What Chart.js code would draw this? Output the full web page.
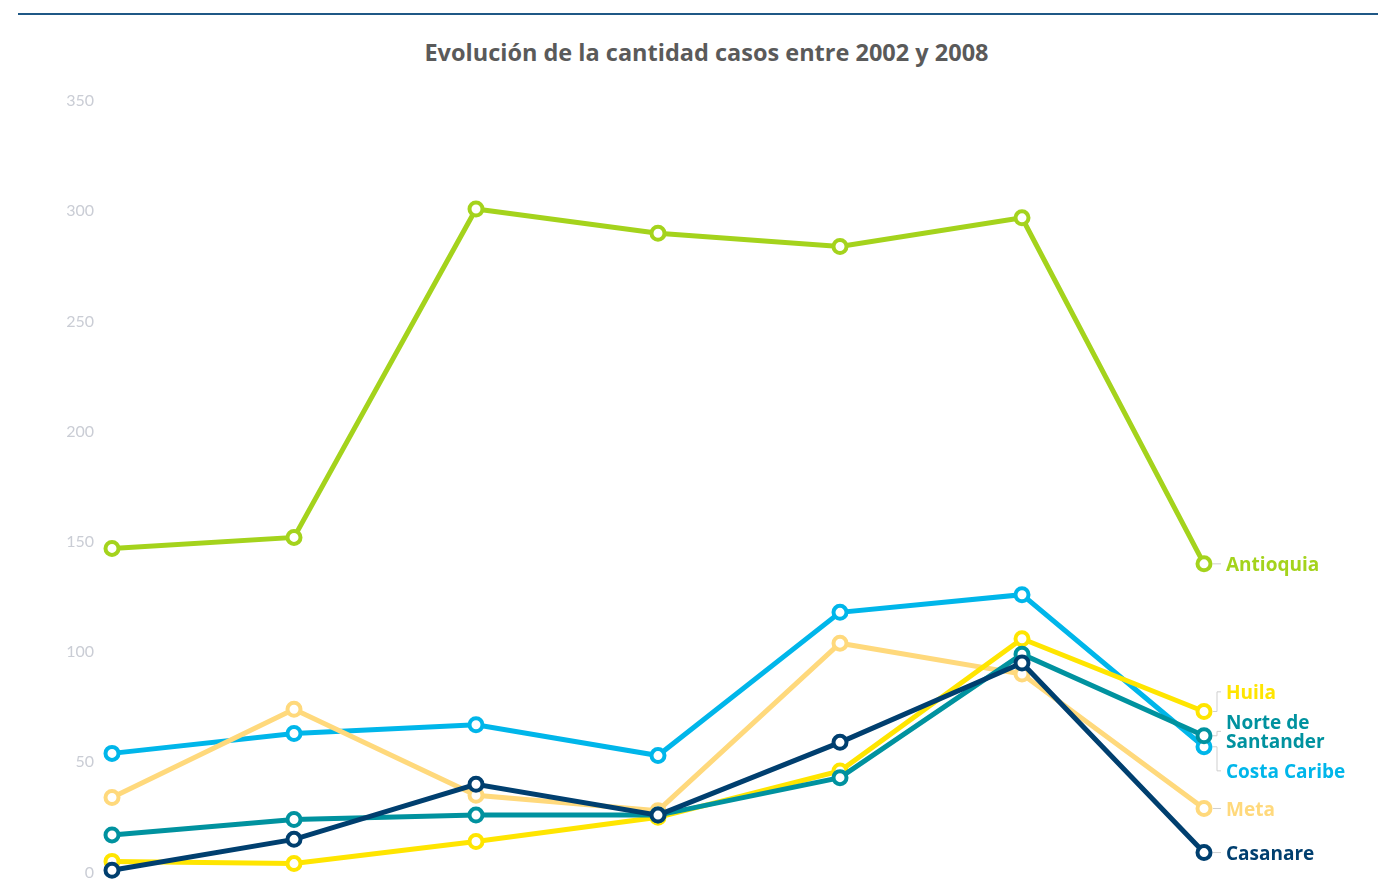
<!DOCTYPE html>
<html lang="es">
<head>
    <meta charset="UTF-8">
    <title>Evolución de la cantidad casos entre 2002 y 2008</title>
    <style>
        body {
            margin: 0;
            background: #ffffff;
            font-family: "Open Sans", Arial, sans-serif;
        }
        .wrap {
            position: relative;
            width: 1393px;
            height: 892px;
            overflow: hidden;
        }
        .top-rule {
            position: absolute;
            left: 18px;
            top: 13px;
            width: 1360px;
            height: 2px;
            background: #1f5886;
        }
        h1 {
            position: absolute;
            top: 36px;
            left: 10px;
            width: 100%;
            margin: 0;
            text-align: center;
            font-size: 23.5px;
            font-weight: 700;
            color: #5a5a5a;
            line-height: 32px;
        }
        canvas {
            position: absolute;
            left: 0;
            top: 0;
        }
    </style>
</head>
<body>
    <div class="wrap">
        <div class="top-rule"></div>
        <h1>Evolución de la cantidad casos entre 2002 y 2008</h1>
        <canvas id="casosChart" width="1393" height="892"></canvas>
    </div>

    <script src="https://cdn.jsdelivr.net/npm/chart.js"></script>
    <script>
        // años (eje x oculto)
        const years = ['2002', '2003', '2004', '2005', '2006', '2007', '2008'];

        // casos por departamento
        const antioquia = [147, 152, 301, 290, 284, 297, 140];
        const costaCaribe = [54, 63, 67, 53, 118, 126, 57];
        const meta = [34, 74, 35, 28, 104, 90, 29];
        const norteSantander = [17, 24, 26, 26, 43, 99, 62];
        const huila = [5, 4, 14, 25, 46, 106, 73];
        const casanare = [1, 15, 40, 26, 59, 95, 9];

        const yTicks = [0, 50, 100, 150, 200, 250, 300, 350];

        function serie(label, data, color, order) {
            return {
                label: label,
                data: data,
                borderColor: color,
                backgroundColor: '#ffffff',
                borderWidth: 5,
                pointRadius: 6.5,
                pointBorderWidth: 4,
                pointBackgroundColor: '#ffffff',
                pointBorderColor: color,
                pointHoverRadius: 6.5,
                tension: 0,
                fill: false,
                clip: false,
                order: order
            };
        }

        // etiquetas al final de cada línea, separadas si se solapan
        const endLabels = {
            id: 'endLabels',
            afterDatasetsDraw(chart) {
                const ctx = chart.ctx;
                const lineH = 19, gap = 11;
                let items = chart.data.datasets.map((ds, i) => {
                    const pts = chart.getDatasetMeta(i).data;
                    const p = pts[pts.length - 1];
                    const lines = ds.label.split('\n');
                    return { lines: lines, color: ds.borderColor, px: p.x, py: p.y, h: lines.length * lineH };
                });
                items.sort((a, b) => a.py - b.py);

                let groups = items.map(it => ({ members: [it] }));
                const layout = g => {
                    const total = g.members.reduce((s, m) => s + m.h, 0) + gap * (g.members.length - 1);
                    const c = g.members.reduce((s, m) => s + m.py, 0) / g.members.length;
                    g.top = c - total / 2;
                    g.bottom = c + total / 2;
                };
                groups.forEach(layout);
                let merged = true;
                while (merged) {
                    merged = false;
                    for (let i = 0; i < groups.length - 1; i++) {
                        if (groups[i].bottom + gap > groups[i + 1].top) {
                            groups[i].members = groups[i].members.concat(groups[i + 1].members);
                            groups.splice(i + 1, 1);
                            layout(groups[i]);
                            merged = true;
                            break;
                        }
                    }
                }
                groups.forEach(g => {
                    let y = g.top;
                    g.members.forEach(m => {
                        m.ly = y + m.h / 2;
                        m.top = y;
                        y += m.h + gap;
                    });
                });

                ctx.save();
                items.forEach(m => {
                    // conector gris
                    const xa = m.px + 9, xb = m.px + 13, xc = m.px + 17;
                    ctx.strokeStyle = '#cfcfcf';
                    ctx.lineWidth = 1;
                    ctx.beginPath();
                    ctx.moveTo(xa, m.py);
                    ctx.lineTo(xb, m.py);
                    ctx.lineTo(xb, m.ly);
                    ctx.lineTo(xc, m.ly);
                    ctx.stroke();

                    ctx.fillStyle = m.color;
                    ctx.font = '700 19px "Open Sans", Arial, sans-serif';
                    ctx.textAlign = 'left';
                    ctx.textBaseline = 'middle';
                    m.lines.forEach((t, k) => {
                        ctx.fillText(t, m.px + 22, m.top + lineH * k + lineH / 2 + 2);
                    });
                });
                ctx.restore();
            }
        };

        const ctx = document.getElementById('casosChart').getContext('2d');

        const chart = new Chart(ctx, {
            type: 'line',
            data: {
                labels: years,
                datasets: [
                    serie('Antioquia', antioquia, '#a4d31c', 6),
                    serie('Huila', huila, '#ffe500', 3),
                    serie('Norte de\nSantander', norteSantander, '#00929f', 2),
                    serie('Costa Caribe', costaCaribe, '#00b6ea', 5),
                    serie('Meta', meta, '#ffd97c', 4),
                    serie('Casanare', casanare, '#003f6f', 1)
                ]
            },
            options: {
                responsive: false,
                animation: false,
                layout: {
                    padding: { top: 101, right: 189, bottom: 10, left: 0 }
                },
                scales: {
                    x: {
                        display: false,
                        offset: false
                    },
                    y: {
                        min: 0,
                        max: 350,
                        afterFit: function (scale) { scale.width = 112; },
                        afterBuildTicks: function (scale) {
                            scale.ticks = yTicks.map(v => ({ value: v }));
                        },
                        grid: { display: false },
                        border: { display: false },
                        ticks: {
                            padding: 10,
                            color: '#cacdd5',
                            font: { family: 'Lato', size: 16 }
                        }
                    }
                },
                plugins: {
                    legend: { display: false },
                    title: { display: false },
                    tooltip: { enabled: false }
                }
            },
            plugins: [endLabels]
        });
    </script>
</body>
</html>
